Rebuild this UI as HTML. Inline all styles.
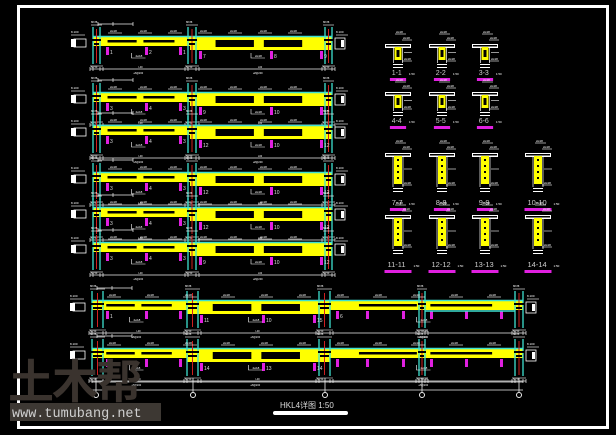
<!DOCTYPE html>
<html><head><meta charset="utf-8">
<style>
html,body{margin:0;padding:0;background:#000;width:616px;height:435px;overflow:hidden}
svg{display:block}
</style></head>
<body>
<svg id="s" xmlns="http://www.w3.org/2000/svg" width="616" height="435" viewBox="0 0 616 435">
<rect width="616" height="435" fill="#000"/>
<rect x="18.5" y="6.5" width="589" height="421" fill="none" stroke="#fff" stroke-width="3"/>
<g id="g"></g>
<text x="8" y="398" font-family="'Liberation Sans','Noto Sans CJK SC',sans-serif" font-size="46" fill="#3a332e" font-weight="bold" letter-spacing="-2">土木帮</text>
<rect x="10" y="403" width="151" height="18" fill="#3d3833"/>
<text x="12" y="417" font-family="'Liberation Mono',monospace" font-size="13.5" fill="#cfcfcf">www.tumubang.net</text>
<text x="280" y="408" font-family="'Liberation Sans','Noto Sans CJK SC',sans-serif" font-size="8" fill="#ddd">HKL4详图  1:50</text>
<rect x="273" y="411" width="75" height="4" rx="2" fill="#fff"/>
</svg>
<script>
var g=document.getElementById('g'),h='';
function R(x,y,w,hh,c){h+='<rect x="'+x+'" y="'+y+'" width="'+w+'" height="'+hh+'" fill="'+c+'"/>';}
function L(x1,y1,x2,y2,c,w){h+='<line x1="'+x1+'" y1="'+y1+'" x2="'+x2+'" y2="'+y2+'" stroke="'+c+'" stroke-width="'+(w||1)+'"/>';}
function T(x,y,t,s,c){h+='<text x="'+x+'" y="'+y+'" font-family="Liberation Sans,sans-serif" font-size="'+(s||3)+'" fill="'+(c||'#fff')+'">'+t+'</text>';}
function dimrow(x0,x1,y,ticks){L(x0,y,x1,y,'#eee',0.7);ticks.forEach(function(t){L(t,y-2,t,y+2,'#eee',0.7);});}
function beam(y,cols,segs,mags,long){
  var x0=cols[0][0],x1=cols[cols.length-1][1];
  h+='<rect x="'+(x0-19)+'" y="'+(y+2)+'" width="12" height="8" fill="none" stroke="#fff" stroke-width="0.8"/>';
  R(x0-22,y+2,5,8,'#fff');
  h+='<rect x="'+(x1+3)+'" y="'+(y+1)+'" width="10" height="11" fill="none" stroke="#fff" stroke-width="0.8"/>';
  R(x1+9,y+3,3,7,'#fff');
  L(x0-22,y-2,x0-8,y-2,'#fff',0.6);L(x1+4,y-2,x1+16,y-2,'#fff',0.6);
  T(x0-22,y-4,'8.100',3);T(x1+4,y-4,'8.100',3);
  segs.forEach(function(s){
    var hh=s[2]?13:9;
    R(s[0],y,s[1]-s[0],hh,'#ffff00');
    var w=s[1]-s[0];
    if(s[2]){R(s[0]+w*0.18,y+3,w*0.27,7,'#000');R(s[0]+w*0.52,y+3,w*0.27,7,'#000');}
    else{R(s[0]+w*0.15,y+3,w*0.3,2.5,'#000');R(s[0]+w*0.52,y+3,w*0.32,2.5,'#000');}
  });
  L(x0,y-0.5,x1,y-0.5,'#3fe0d0',1.5);
  cols.forEach(function(c){
    L(c[0],y-10,c[0],y+27,'#3fe0d0',1.3);L(c[1],y-10,c[1],y+27,'#3fe0d0',1.3);
    var m=(c[0]+c[1])/2;L(m,y-8,m,y+26,'#d02020',1);
    R(c[0]-1,y+2,c[1]-c[0]+2,2,'#000');R(c[0]+1,y+6,c[1]-c[0]-2,2,'#000');
    L(c[0]-2,y-12,c[1]+2,y-12,'#fff',0.6);T(c[0]-2,y-14,'88 88',2.5);
    L(c[0]-3,y+29,c[1]+3,y+29,'#fff',0.6);
  });
  mags.forEach(function(m){R(m[0],y+(m[1]||10),3,8,'#e020e0');T(m[0]+4,y+(m[1]||10)+7,m[2]||'',5,'#ddd');});
  for(var x=x0+15;x<x1-15;x+= long?38:30){L(x,y-4,x+14,y-4,'#fff',0.6);T(x+2,y-5,'2⌀18',3);}
  segs.forEach(function(s){var m=(s[0]+s[1])/2;h+='<path d="M'+(m-10)+' '+(y+16)+' v5 h14" stroke="#fff" fill="none" stroke-width="0.6"/>';T(m-6,y+20,'2⌀18',3);});
  var tk=[];cols.forEach(function(c){tk.push(c[0]-3,c[0],c[1],c[1]+3);});
  dimrow(x0-3,x1+3,y+32,tk);
  cols.forEach(function(c){T(c[0]-2,y+31,'50 50',2.5);});
  segs.forEach(function(s){var m=(s[0]+s[1])/2;T(m-3,y+31,'L00',2.5);T(m-8,y+37,'⌀8@200',2.5);});
  dimrow(x0+5,x0+40,y-13,[x0+5,x0+20,x0+40]);
}
var c6=[[93,100],[188,196],[325,332]];
var s6=[[93,190,0],[190,332,1]];
var ys=[37,93,126,173,208,243];
var labs=[['1','2','1','7','8','9'],['3','4','3','9','10','11'],['3','4','3','12','10','12'],['3','4','3','12','10','12'],['3','4','3','12','10','12'],['3','4','3','9','10','12']];
ys.forEach(function(y,i){
  var l=labs[i];
  beam(y,c6,s6,[[106,10,l[0]],[145,10,l[1]],[179,10,l[2]],[199,14,l[3]],[270,14,l[4]],[320,14,l[5]]]);
});
var c8=[[92,103],[187,198],[319,330],[419,425],[515,523]];
var s8=[[92,187,0],[187,330,1],[330,523,0]];
beam(301,c8,s8,[[106,10,'1'],[145,10,''],[179,10,''],[200,14,'11'],[262,14,'10'],[313,14,'15'],[336,10,'6'],[366,10,''],[402,10,''],[430,10,''],[465,10,''],[500,10,'']],true);
L(425,311,515,311,'#3fe0d0',1.5);
beam(349,c8,s8,[[106,10,''],[145,10,''],[179,10,''],[200,14,'14'],[262,14,'13'],[313,14,'14'],[336,10,''],[366,10,''],[402,10,''],[430,10,''],[465,10,''],[500,10,'']],true);
L(92,382,523,382,'#eee',0.8);L(92,390,523,390,'#eee',0.8);
[96,193,325,422,519].forEach(function(x){L(x,378,x,392,'#eee',0.8);h+='<circle cx="'+x+'" cy="395" r="2.5" fill="none" stroke="#eee" stroke-width="1"/>';});
function sec(cx,ty,big,lab){
  var fw=26,wh=big?26:11,ww=big?8:7;
  L(cx-3,ty-10,cx+8,ty-10,'#fff',0.6);T(cx-2,ty-11,'2⌀18',3);
  L(cx+4,ty-4,cx+14,ty-4,'#fff',0.6);T(cx+5,ty-5,'2⌀18',3);
  R(cx-fw/2,ty,fw,4,'#fff');R(cx-fw/2+1,ty+1,fw-2,1.5,'#000');
  R(cx-ww/2,ty+3,ww,wh+2,'#ffff00');
  if(big){for(var k=0;k<4;k++)R(cx-1,ty+6+k*6,2,2,'#000');}else R(cx-1.5,ty+6,3,wh-4,'#000');
  L(cx-ww/2-1,ty+4,cx-ww/2-1,ty+wh+8,'#fff',0.7);L(cx+ww/2+1,ty+4,cx+ww/2+1,ty+wh+8,'#fff',0.7);
  L(cx+6,ty+wh/2+3,cx+14,ty+wh/2+3,'#fff',0.6);
  L(cx+4,ty+wh+6,cx+14,ty+wh+6,'#fff',0.6);T(cx+6,ty+wh+5,'2⌀18',3);
  R(cx-5,ty+wh+9,10,1,'#fff');R(cx-5,ty+wh+12,10,1,'#fff');
  var ly=ty+wh+(big?26:20);
  T(cx-lab.length*2.1,ly,lab,big?7.5:7,'#ccc');T(cx+lab.length*2.3+4,ly,'1:50',3);
  R(cx-lab.length*2.7,ly+3,lab.length*5.4,3,'#e020e0');
}
[[398,'1-1'],[442,'2-2'],[485,'3-3']].forEach(function(a){sec(a[0],44,0,a[1]);});
[[398,'4-4'],[442,'5-5'],[485,'6-6']].forEach(function(a){sec(a[0],92,0,a[1]);});
[[398,'7-7'],[442,'8-8'],[485,'9-9'],[538,'10-10']].forEach(function(a){sec(a[0],153,1,a[1]);});
[[398,'11-11'],[442,'12-12'],[485,'13-13'],[538,'14-14']].forEach(function(a){sec(a[0],215,1,a[1]);});
g.innerHTML=h;
</script>
</body></html>
